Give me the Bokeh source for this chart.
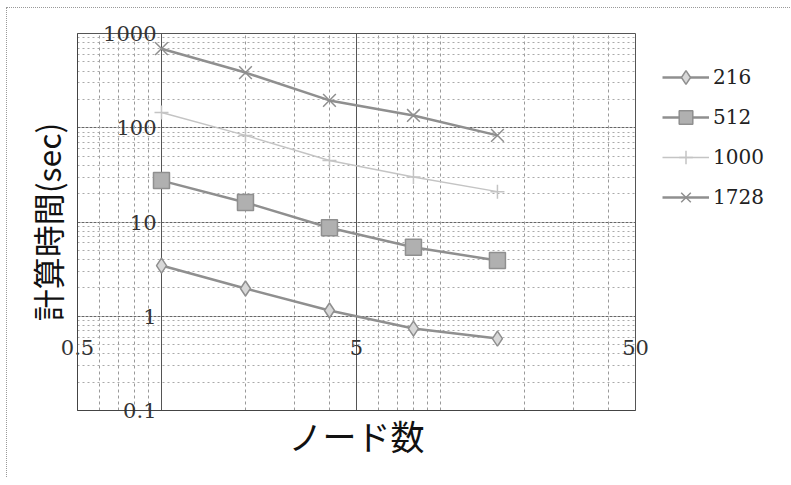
from bokeh.plotting import figure
from bokeh.models import FixedTicker, Grid, Legend, LegendItem, ColumnDataSource
from bokeh.embed import file_html
from bokeh.resources import INLINE

# ---- data ----
nodes = [1, 2, 4, 8, 16]
t216 = [3.45, 1.97, 1.15, 0.74, 0.58]
t512 = [27.5, 16.1, 8.7, 5.4, 3.9]
t1000 = [145, 83, 45, 30, 21]
t1728 = [690, 385, 195, 135, 83]
series_names = ["216", "512", "1000", "1728"]

x_ticks = [0.5, 5, 50]
x_tick_labels = ["0.5", "5", "50"]
y_ticks = [0.1, 1, 10, 100, 1000]
y_tick_labels = ["0.1", "1", "10", "100", "1000"]

p = figure(width=770, height=470, x_axis_type="log", y_axis_type="log",
           x_range=(0.5, 50), y_range=(0.1, 1000),
           output_backend="svg", toolbar_location=None,
           min_border_left=70, min_border_top=25, min_border_right=140, min_border_bottom=67,
           frame_width=558, frame_height=377)
p.styles = {"border-top": "1px dotted #999", "border-left": "1px dotted #999",
            "margin-left": "6px", "margin-top": "7px"}
p.outline_line_color = "#555"
p.background_fill_color = "white"

# axes
p.xaxis.ticker = FixedTicker(ticks=x_ticks)
p.xaxis.major_label_overrides = {t: l for t, l in zip(x_ticks, x_tick_labels)}
p.yaxis.ticker = FixedTicker(ticks=y_ticks)
p.yaxis.major_label_overrides = {t: l for t, l in zip(y_ticks, y_tick_labels)}
for ax in (p.xaxis[0], p.yaxis[0]):
    ax.major_tick_line_color = None
    ax.minor_tick_line_color = None
    ax.axis_line_color = "#444"
    ax.major_label_text_font = "DejaVu Serif"
    ax.major_label_text_font_size = "21px"
    ax.major_label_text_color = "#333"
    ax.axis_label_text_font = "Noto Sans CJK JP"
    ax.axis_label_text_font_style = "normal"
    ax.axis_label_text_color = "#111"

p.xaxis.major_label_standoff = -77
p.yaxis.major_label_standoff = -85
p.xaxis.axis_label = "ノード数"
p.xaxis.axis_label_text_font_size = "34px"
p.xaxis.axis_label_standoff = 53
p.yaxis.axis_label = "計算時間(sec)"
p.yaxis.axis_label_text_font_size = "32px"
p.yaxis.axis_label_standoff = 30

# grids
p.xgrid.ticker = FixedTicker(ticks=[1, 5])
p.xgrid.grid_line_color = "#555"
p.xgrid.grid_line_width = 1
p.ygrid.ticker = FixedTicker(ticks=y_ticks)
p.ygrid.grid_line_color = "#666"
p.ygrid.grid_line_dash = "3 1"
p.ygrid.grid_line_width = 1.2

x_minor = [0.6, 0.7, 0.8, 0.9, 2, 3, 4, 6, 7, 8, 9, 10, 20, 30, 40]
y_minor = [m * d for d in (0.1, 1, 10, 100) for m in (2, 3, 4, 5, 6, 7, 8, 9)]
p.add_layout(Grid(dimension=0, ticker=FixedTicker(ticks=x_minor),
                  grid_line_color="#999", grid_line_dash="3 3", grid_line_width=1))
p.add_layout(Grid(dimension=1, ticker=FixedTicker(ticks=y_minor),
                  grid_line_color="#aaa", grid_line_dash="2 3", grid_line_width=1))

# series
src = ColumnDataSource(dict(x=nodes, a=t216, b=t512, c=t1000, d=t1728))
items = []
styles = [
    ("a", "diamond", 15, "#8f8f8f", "#d8d8d8", 2.5),
    ("b", "square", 16, "#8f8f8f", "#b0b0b0", 2.5),
    ("c", "cross", 14, "#c4c4c4", "#c4c4c4", 1.5),
    ("d", "x", 18, "#8f8f8f", "#8f8f8f", 2.5),
]
for name, (col, marker, size, lc, fc, lw) in zip(series_names, styles):
    r1 = p.line("x", col, source=src, line_color=lc, line_width=lw)
    r2 = p.scatter("x", col, source=src, marker=marker, size=size,
                   line_color=lc, fill_color=fc, line_width=1.5)
    items.append(LegendItem(label=name, renderers=[r1, r2]))

legend = Legend(items=items, location="top_left",
                label_text_font="DejaVu Serif", label_text_font_size="20px",
                label_text_color="#222", glyph_width=47, glyph_height=34,
                label_height=20, spacing=6, label_standoff=4,
                border_line_color=None, background_fill_alpha=0,
                margin=27, padding=0)
p.add_layout(legend, "right")

open("out.html", "w").write(file_html(p, INLINE))
